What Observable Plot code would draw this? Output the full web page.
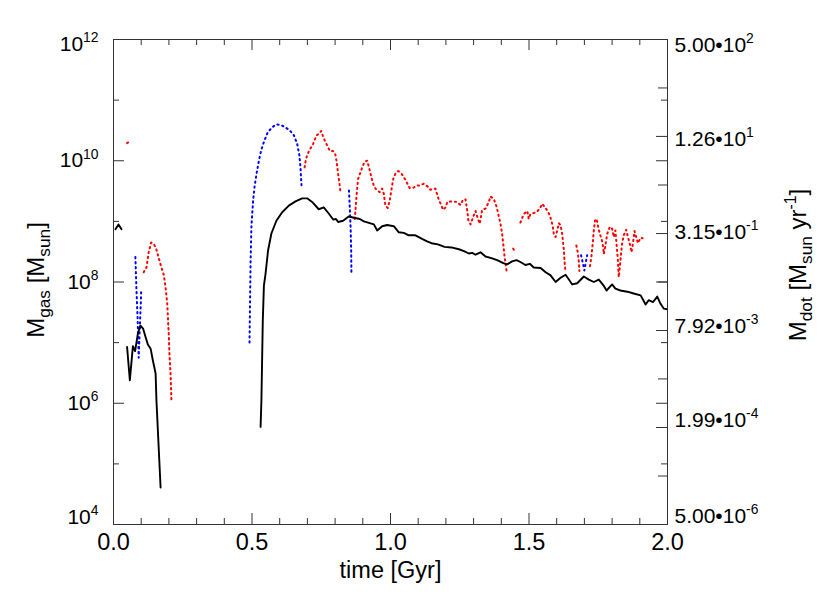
<!DOCTYPE html>
<html>
<head>
<meta charset="utf-8">
<script src="https://cdn.jsdelivr.net/npm/d3@7"></script>
<script src="https://cdn.jsdelivr.net/npm/@observablehq/plot@0.6"></script>
<style>
  html, body { margin: 0; padding: 0; background: #fff; }
</style>
</head>
<body>
<div id="chart"></div>
<script>
// ---------------- data (time in Gyr, log10 of value) ----------------
// Gas mass, left axis, log10(M_gas / Msun)
const gasCaret = [[0.007, 8.87], [0.018, 8.95], [0.029, 8.87]];
const gasEarly = [[0.049,6.93],[0.059,6.38],[0.070,6.94],[0.078,6.86],[0.088,7.15],[0.097,7.28],[0.107,7.23],[0.116,7.09],[0.124,6.97],[0.134,6.90],[0.142,6.71],[0.152,6.49],[0.155,6.05],[0.170,4.61]];
const gasMain = [[0.531,5.61],[0.534,6.05],[0.539,7.37],[0.543,7.94],[0.549,8.14],[0.558,8.52],[0.570,8.80],[0.588,9.01],[0.609,9.15],[0.633,9.26],[0.657,9.33],[0.681,9.38],[0.699,9.38],[0.717,9.32],[0.741,9.20],[0.759,9.23],[0.777,9.13],[0.793,9.03],[0.803,9.04],[0.811,8.99],[0.829,9.01],[0.849,9.08],[0.868,9.06],[0.889,9.04],[0.904,9.00],[0.925,8.97],[0.940,8.95],[0.952,8.85],[0.970,8.92],[0.988,8.94],[1.012,8.92],[1.030,8.82],[1.048,8.81],[1.066,8.77],[1.090,8.77],[1.114,8.71],[1.132,8.67],[1.148,8.64],[1.171,8.62],[1.195,8.58],[1.220,8.57],[1.247,8.54],[1.265,8.51],[1.283,8.47],[1.295,8.48],[1.307,8.45],[1.325,8.49],[1.343,8.42],[1.367,8.39],[1.385,8.36],[1.407,8.31],[1.421,8.29],[1.439,8.34],[1.455,8.36],[1.469,8.33],[1.487,8.28],[1.503,8.30],[1.517,8.24],[1.542,8.23],[1.560,8.16],[1.578,8.11],[1.596,8.00],[1.614,8.07],[1.632,8.12],[1.644,8.04],[1.656,7.96],[1.674,7.98],[1.698,8.09],[1.716,8.04],[1.734,8.00],[1.752,8.04],[1.768,7.95],[1.780,7.86],[1.800,7.96],[1.812,7.89],[1.830,7.86],[1.855,7.84],[1.878,7.81],[1.903,7.78],[1.921,7.63],[1.932,7.70],[1.948,7.67],[1.963,7.76],[1.975,7.64],[1.987,7.56],[1.999,7.55]];

// Accretion rate, right axis, log10(Mdot / Msun yr^-1) — blue segments
const rateBlue = [
  [[0.079,-0.89],[0.083,-1.44],[0.087,-1.89],[0.089,-2.27],[0.091,-2.55],[0.094,-2.18],[0.096,-1.94],[0.099,-1.61],[0.100,-1.41]],
  [[0.491,-2.30],[0.493,-1.61],[0.495,-0.95],[0.498,-0.37],[0.504,0.04],[0.509,0.26],[0.516,0.48],[0.525,0.70],[0.533,0.87],[0.543,1.01],[0.557,1.17],[0.573,1.25],[0.588,1.30],[0.603,1.29],[0.621,1.25],[0.636,1.20],[0.651,1.12],[0.663,0.98],[0.671,0.79],[0.675,0.59],[0.679,0.27]],
  [[0.850,0.21],[0.853,-0.07],[0.856,-0.40],[0.858,-0.78],[0.859,-1.19]],
  [[1.688,-0.86],[1.694,-0.98],[1.700,-1.11],[1.705,-0.98],[1.710,-0.86]]
];
// red segments
const rateRed = [
  [[0.049,0.99],[0.064,1.03]],
  [[0.109,-1.14],[0.119,-1.06],[0.122,-0.97],[0.127,-0.81],[0.136,-0.65],[0.145,-0.67],[0.154,-0.75],[0.164,-0.92],[0.173,-1.06],[0.182,-1.19],[0.188,-1.39],[0.194,-1.66],[0.197,-1.94],[0.200,-2.21],[0.202,-2.49],[0.206,-2.82],[0.208,-3.09],[0.209,-3.26]],
  [[0.690,0.59],[0.693,0.68],[0.699,0.79],[0.708,0.88],[0.721,0.98],[0.733,1.12],[0.741,1.14],[0.750,1.19],[0.757,1.09],[0.765,1.01],[0.775,0.92],[0.781,0.86],[0.793,0.86],[0.801,0.80],[0.805,0.70],[0.808,0.59],[0.811,0.48],[0.815,0.35],[0.819,0.20]],
  [[0.871,-0.26],[0.874,-0.09],[0.877,0.10],[0.880,0.26],[0.883,0.40],[0.892,0.51],[0.898,0.59],[0.906,0.68],[0.916,0.70],[0.925,0.54],[0.934,0.37],[0.942,0.26],[0.952,0.21],[0.961,0.18],[0.970,0.24],[0.976,0.15],[0.979,0.04],[0.982,-0.04],[0.990,-0.08],[0.997,0.04],[1.004,0.24],[1.010,0.40],[1.018,0.49],[1.028,0.53],[1.039,0.49],[1.048,0.43],[1.060,0.33],[1.069,0.25],[1.082,0.25],[1.094,0.29],[1.106,0.29],[1.120,0.32],[1.135,0.27],[1.144,0.22],[1.162,0.24],[1.174,0.06],[1.181,-0.01],[1.190,-0.11],[1.199,-0.07],[1.205,0.02],[1.223,0.03],[1.238,0.02],[1.253,-0.03],[1.262,0.06],[1.271,0.06],[1.277,-0.12],[1.281,-0.28],[1.289,-0.35],[1.299,-0.22],[1.307,-0.13],[1.313,-0.22],[1.322,-0.34],[1.331,-0.11],[1.343,-0.09],[1.355,0.02],[1.361,0.11],[1.373,0.07],[1.383,-0.06],[1.389,-0.18],[1.397,-0.34],[1.403,-0.51],[1.407,-0.67],[1.412,-0.89],[1.419,-1.12]],
  [[1.443,-0.75],[1.451,-0.82]],
  [[1.469,-0.32],[1.481,-0.18],[1.494,-0.13],[1.499,-0.26],[1.505,-0.18],[1.527,-0.15],[1.539,-0.09],[1.548,-0.01],[1.556,-0.06],[1.566,-0.12],[1.575,-0.20],[1.581,-0.29],[1.586,-0.39],[1.590,-0.53],[1.596,-0.56],[1.602,-0.45],[1.608,-0.33],[1.614,-0.37],[1.620,-0.51],[1.623,-0.65],[1.626,-0.78],[1.628,-0.95],[1.632,-1.14]],
  [[1.671,-0.70],[1.676,-0.81],[1.680,-0.97],[1.682,-1.12]],
  [[1.720,-1.04],[1.725,-0.89],[1.730,-0.67],[1.734,-0.45],[1.738,-0.29],[1.744,-0.26],[1.750,-0.40],[1.756,-0.51],[1.762,-0.59],[1.768,-0.73],[1.770,-0.84],[1.776,-0.70],[1.782,-0.51],[1.792,-0.39],[1.800,-0.42],[1.806,-0.56],[1.812,-0.45],[1.816,-0.67],[1.821,-0.95],[1.824,-1.22],[1.830,-0.95],[1.836,-0.67],[1.842,-0.53],[1.851,-0.44],[1.857,-0.56],[1.863,-0.65],[1.870,-0.81],[1.875,-0.67],[1.881,-0.46],[1.887,-0.56],[1.893,-0.66],[1.903,-0.57],[1.910,-0.58]]
];

// ---------------- axes / ticks ----------------
const xMajor = [0, 0.5, 1.0, 1.5, 2.0];
const xMinor = [0.1,0.2,0.3,0.4,0.6,0.7,0.8,0.9,1.1,1.2,1.3,1.4,1.6,1.7,1.8,1.9];
const yMajor = [1e12, 1e10, 1e8, 1e6, 1e4];
const yMajorLabels = ["10^{12}", "10^{10}", "10^{8}", "10^{6}", "10^{4}"];
const yMinor = [1e11, 1e9, 1e7, 1e5];
const rMajor = [5.00e2, 1.26e1, 3.15e-1, 7.92e-3, 1.99e-4, 5.00e-6];
const rMajorLabels = ["5.00•10^{2}", "1.26•10^{1}", "3.15•10^{-1}", "7.92•10^{-3}", "1.99•10^{-4}", "5.00•10^{-6}"];
const rMinor = [79.4, 1.99, 0.0500, 0.00126, 3.15e-5];
const xTitle = "time [Gyr]";
const yTitle = "M_{gas} [M_{sun}]";
const rTitle = "M_{dot} [M_{sun} yr^{-1}]";

// right axis spans the same 8 decades: 5e-6..5e2 <-> 1e4..1e12
const K = 1e4 / 5e-6;

// ---------------- layout ----------------
const W = 830, H = 604;
const mL = 113, mR = 163, mT = 39, mB = 80;
const PW = W - mL - mR, PH = H - mT - mB;
const FS = 21, FSX = 23.5, FST = 24;
const axisColor = "#333";
const tickMajor = 11, tickMinorLen = 6;
const dots = "1.3,3.7";

const leftDy = [5, 0, 0, 0, -7];
const rightDy = [6, 3, -1, -4, -7, -8];

const marks = [];
// series
for (const seg of rateBlue) marks.push(Plot.line(seg, {x: d => d[0], y: d => 10 ** d[1] * K, stroke: "#0000ff", strokeWidth: 2, strokeDasharray: dots}));
for (const seg of rateRed) marks.push(Plot.line(seg, {x: d => d[0], y: d => 10 ** d[1] * K, stroke: "#ff0000", strokeWidth: 2, strokeDasharray: dots}));
for (const seg of [gasCaret, gasEarly, gasMain]) marks.push(Plot.line(seg, {x: d => d[0], y: d => 10 ** d[1], stroke: "#000", strokeWidth: 1.9}));

// frame
marks.push(Plot.frame({stroke: axisColor, strokeWidth: 1}));
// bottom / top ticks
marks.push(Plot.tickX(xMajor, {x: d => d, insetTop: PH - tickMajor, stroke: axisColor}));
marks.push(Plot.tickX(xMinor, {x: d => d, insetTop: PH - tickMinorLen, stroke: axisColor}));
marks.push(Plot.tickX(xMajor, {x: d => d, insetBottom: PH - tickMajor, stroke: axisColor}));
marks.push(Plot.tickX(xMinor, {x: d => d, insetBottom: PH - tickMinorLen, stroke: axisColor}));
// left ticks
marks.push(Plot.tickY(yMajor, {y: d => d, insetRight: PW - tickMajor, stroke: axisColor}));
marks.push(Plot.tickY(yMinor, {y: d => d, insetRight: PW - tickMinorLen, stroke: axisColor}));
// right: mirrored left ticks
marks.push(Plot.tickY(yMajor, {y: d => d, insetLeft: PW - tickMajor, stroke: axisColor}));
marks.push(Plot.tickY(yMinor, {y: d => d, insetLeft: PW - tickMinorLen, stroke: axisColor}));
// right: own axis ticks
marks.push(Plot.tickY(rMajor, {y: d => d * K, insetLeft: PW - tickMajor, stroke: axisColor}));
marks.push(Plot.tickY(rMinor, {y: d => d * K, insetLeft: PW - tickMajor + 2, stroke: axisColor}));

// tick labels
marks.push(Plot.text(xMajor, {x: d => d, text: d => d.toFixed(1), frameAnchor: "bottom", textAnchor: "middle", dy: 25, fontSize: FSX, fill: "#000"}));
yMajor.forEach((v, i) => marks.push(Plot.text([v], {y: d => d, text: () => yMajorLabels[i], frameAnchor: "left", textAnchor: "end", dx: -15, dy: leftDy[i], fontSize: FS, fill: "#000"})));
rMajor.forEach((v, i) => marks.push(Plot.text([v], {y: d => d * K, text: () => rMajorLabels[i], frameAnchor: "right", textAnchor: "start", dx: 7, dy: rightDy[i], fontSize: FS, fill: "#000"})));

// axis titles
marks.push(Plot.text([xTitle], {text: d => d, frameAnchor: "bottom", textAnchor: "middle", dy: 53, fontSize: FSX, fill: "#000"}));
marks.push(Plot.text([yTitle], {text: d => d, frameAnchor: "left", textAnchor: "middle", rotate: -90, dx: -77, dy: -2, fontSize: FST, fill: "#000"}));
marks.push(Plot.text([rTitle], {text: d => d, frameAnchor: "right", textAnchor: "middle", rotate: -90, dx: 131, dy: -17, fontSize: FST, fill: "#000"}));

const svg = Plot.plot({
  width: W, height: H,
  marginLeft: mL, marginRight: mR, marginTop: mT, marginBottom: mB,
  style: {fontFamily: "'Liberation Sans', Arial, Helvetica, sans-serif", fontSize: FS + "px", background: "#fff", overflow: "visible"},
  x: {domain: [0, 2], axis: null},
  y: {type: "log", domain: [1e4, 1e12], axis: null},
  marks
});

// rich text: ^{..} superscript, _{..} subscript
function rich(el, s, fs) {
  const re = /([\^_])\{([^}]*)\}|([^\^_]+)/g;
  while (el.firstChild) el.removeChild(el.firstChild);
  let shift = 0, m;
  const NS = "http://www.w3.org/2000/svg";
  while ((m = re.exec(s))) {
    const ts = document.createElementNS(NS, "tspan");
    if (m[3] !== undefined) {
      ts.textContent = m[3];
      if (shift) ts.setAttribute("dy", (-shift) + "px");
      shift = 0;
    } else {
      const sup = m[1] === "^";
      const target = sup ? -0.42 * fs : 0.24 * fs;
      ts.textContent = m[2];
      ts.setAttribute("font-size", ((sup ? 0.66 : 0.72) * fs) + "px");
      ts.setAttribute("dy", (target - shift) + "px");
      shift = target;
    }
    el.appendChild(ts);
  }
}
svg.querySelectorAll("text").forEach(t => {
  const s = t.textContent;
  if (/[\^_]\{/.test(s)) {
    const g = t.closest("[font-size]");
    const fs = g ? parseFloat(g.getAttribute("font-size")) : FS;
    rich(t, s, fs);
  }
});

document.getElementById("chart").appendChild(svg);
</script>
</body>
</html>
